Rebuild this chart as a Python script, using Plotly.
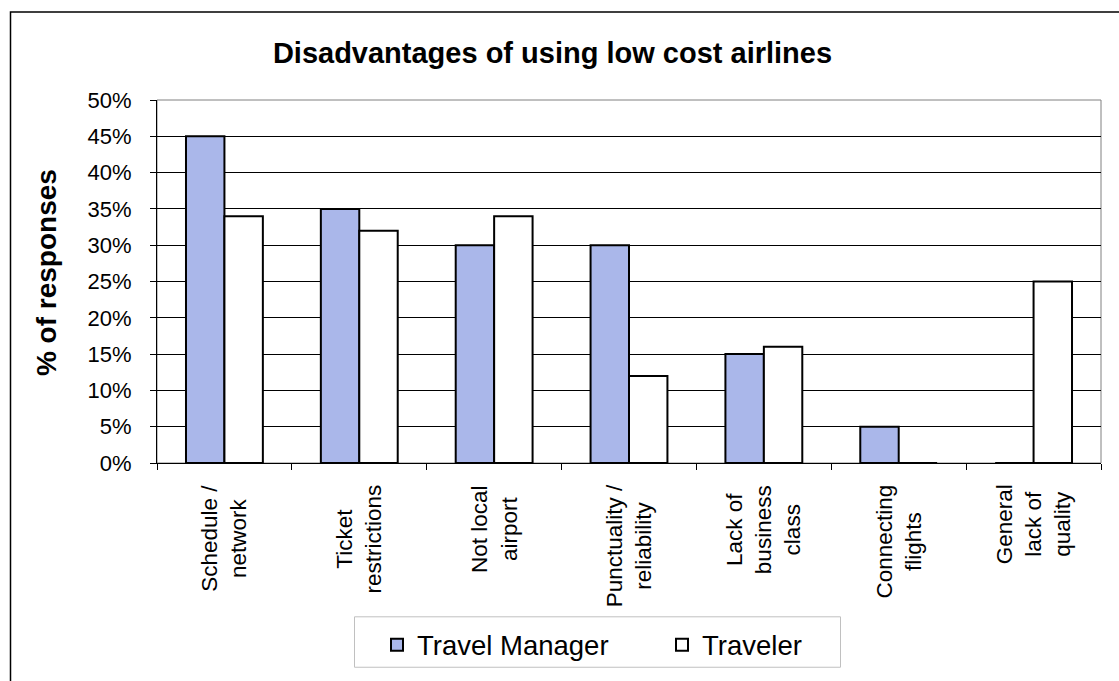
import plotly.graph_objects as go

# Survey results: disadvantages of low cost airlines (% of responses)
categories = [
    "Schedule /<br>network",
    "Ticket<br>restrictions",
    "Not local<br>airport",
    "Punctuality /<br>reliability",
    "Lack of<br>business<br>class",
    "Connecting<br>flights",
    "General<br>lack of<br>quality",
]
travel_manager = [45, 35, 30, 30, 15, 5, 0]
traveler = [34, 32, 34, 12, 16, 0, 25]
y_ticks = [0, 5, 10, 15, 20, 25, 30, 35, 40, 45, 50]
y_tick_labels = [f"{v}%" for v in y_ticks]

FONT = "Liberation Sans, Arial, sans-serif"
W, H = 1119, 681
ML, MR, MT, MB = 157, 18, 100, 214
PW, PH = W - ML - MR, H - MT - MB


def px_x(px):
    return (px - ML) / PW


def px_y(py):
    return (H - MB - py) / PH


fig = go.Figure()
fig.add_trace(go.Bar(
    name="Travel Manager", x=categories, y=travel_manager,
    marker=dict(color="#AAB7EA", line=dict(color="black", width=2)),
))
fig.add_trace(go.Bar(
    name="Traveler", x=categories, y=traveler,
    marker=dict(color="white", line=dict(color="black", width=2)),
))

# category labels, rotated with centred lines
for c in categories:
    fig.add_annotation(
        x=c, xref="x", y=px_y(487), yref="paper",
        text=c, textangle=-90, showarrow=False,
        xanchor="center", yanchor="top", align="center",
        font=dict(family=FONT, size=22.5, color="black"),
    )

# y axis title
fig.add_annotation(
    x=px_x(46), xref="paper", y=px_y(275), yref="paper",
    text="<b>% of responses</b>", textangle=-90, showarrow=False,
    xanchor="center", yanchor="middle",
    font=dict(family=FONT, size=28, color="black"),
)

# plot area frame (grey top/right)
fig.add_shape(type="rect", xref="paper", yref="paper", x0=0, x1=1, y0=0, y1=1,
              line=dict(color="#808080", width=1), layer="below")
# legend frame
fig.add_shape(type="rect", xref="paper", yref="paper",
              x0=px_x(354.5), x1=px_x(840.5), y0=px_y(673.5), y1=px_y(622.5),
              line=dict(color="#C0C0C0", width=1))
# outer chart border
fig.add_shape(type="rect", xref="paper", yref="paper",
              x0=px_x(10.5), x1=px_x(1130), y0=px_y(695), y1=px_y(11),
              line=dict(color="black", width=1.5))

fig.update_layout(
    width=W, height=H,
    margin=dict(l=ML, r=MR, t=MT, b=MB),
    paper_bgcolor="white", plot_bgcolor="white",
    barmode="group", bargap=0.43, bargroupgap=0,
    title=dict(
        text="<b>Disadvantages of using low cost airlines</b>",
        x=552.5 / W, xref="container", xanchor="center",
        y=1 - 53 / H, yref="container", yanchor="middle",
        font=dict(family=FONT, size=29, color="black"),
    ),
    font=dict(family=FONT, color="black"),
    legend=dict(
        orientation="h", x=px_x(377), xanchor="left",
        y=px_y(626), yanchor="top",
        borderwidth=0, bgcolor="rgba(0,0,0,0)",
        font=dict(family=FONT, size=27.5, color="black"),
        entrywidth=240, entrywidthmode="pixels",
    ),
    xaxis=dict(
        showticklabels=False, ticks="outside", tickson="boundaries",
        ticklen=6, tickcolor="black", tickwidth=1,
        showline=True, linecolor="black", linewidth=1,
        showgrid=False,
    ),
    yaxis=dict(
        range=[0, 50], tickmode="array", tickvals=y_ticks, ticktext=y_tick_labels,
        ticks="outside", ticklen=6, tickcolor="black", tickwidth=1,
        showline=True, linecolor="black", linewidth=1,
        showgrid=True, gridcolor="black", gridwidth=1,
        zeroline=False,
        tickfont=dict(family=FONT, size=22, color="black"),
        ticklabelstandoff=14,
    ),
)

fig.write_html("out.html")
